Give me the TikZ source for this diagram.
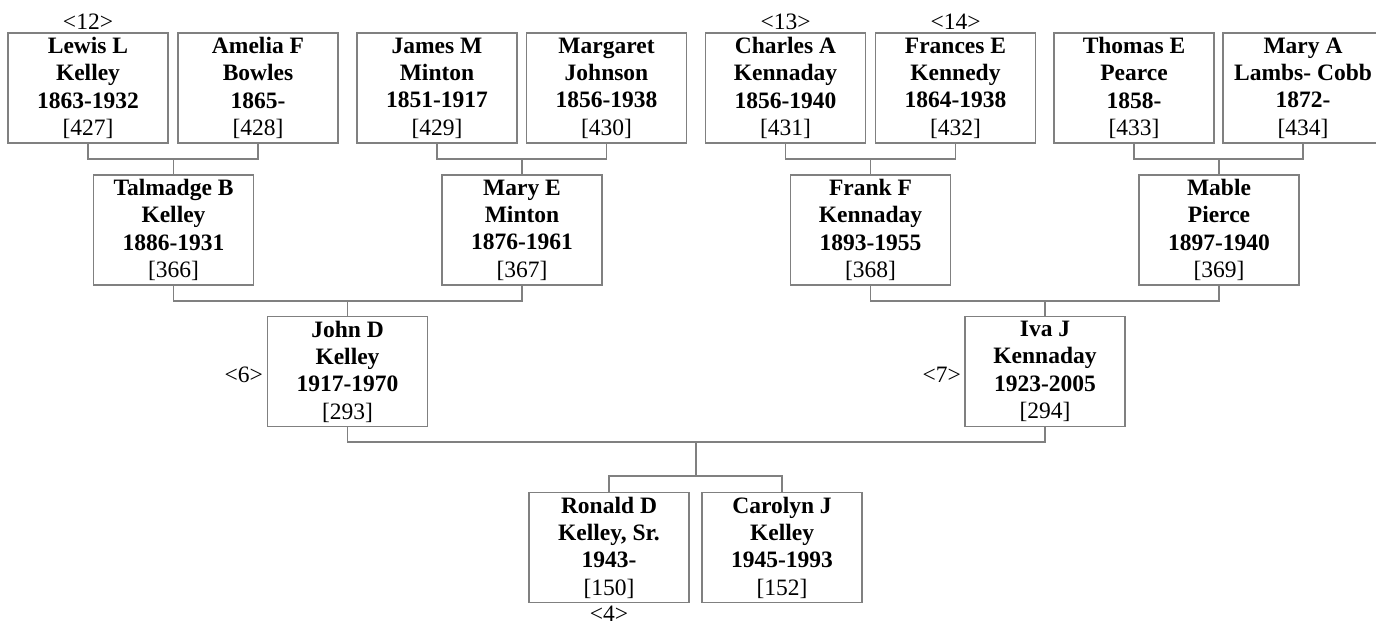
\documentclass[tikz,border=0pt]{standalone}
\usepackage{fontspec}
\setmainfont{Liberation Serif}
\begin{document}
\begin{tikzpicture}[x=1pt,y=1pt,
  person/.style={draw=black!50, line width=1.1pt, fill=white, minimum width=160pt, minimum height=110pt,
    inner sep=0pt, align=center, font=\fontsize{23.5}{27.3}\selectfont},
  link/.style={draw=black!50, line width=1.1pt},
  tag/.style={font=\fontsize{23.5}{27}\selectfont, inner sep=0pt}]
\useasboundingbox[fill=white] (0,0) rectangle (1376,625);
% generation 4
\node[person] (p427) at (88,537)     {\textbf{Lewis L}\\\textbf{Kelley}\\\textbf{1863-1932}\\{[427]}};
\node[person] (p428) at (258,537)    {\textbf{Amelia F}\\\textbf{Bowles}\\\textbf{1865-}\\{[428]}};
\node[person] (p429) at (437,537)    {\textbf{James M}\\\textbf{Minton}\\\textbf{1851-1917}\\{[429]}};
\node[person] (p430) at (606.5,537)  {\textbf{Margaret}\\\textbf{Johnson}\\\textbf{1856-1938}\\{[430]}};
\node[person] (p431) at (785.5,537)  {\textbf{Charles A}\\\textbf{Kennaday}\\\textbf{1856-1940}\\{[431]}};
\node[person] (p432) at (955.5,537)  {\textbf{Frances E}\\\textbf{Kennedy}\\\textbf{1864-1938}\\{[432]}};
\node[person] (p433) at (1134,537)   {\textbf{Thomas E}\\\textbf{Pearce}\\\textbf{1858-}\\{[433]}};
\node[person] (p434) at (1303,537)   {\textbf{Mary A}\\\textbf{Lambs- Cobb}\\\textbf{1872-}\\{[434]}};
% generation 3
\node[person] (p366) at (173.5,395) {\textbf{Talmadge B}\\\textbf{Kelley}\\\textbf{1886-1931}\\{[366]}};
\node[person] (p367) at (522,395)   {\textbf{Mary E}\\\textbf{Minton}\\\textbf{1876-1961}\\{[367]}};
\node[person] (p368) at (870.5,395) {\textbf{Frank F}\\\textbf{Kennaday}\\\textbf{1893-1955}\\{[368]}};
\node[person] (p369) at (1219,395)  {\textbf{Mable}\\\textbf{Pierce}\\\textbf{1897-1940}\\{[369]}};
% generation 2
\node[person] (p293) at (347.5,253.5) {\textbf{John D}\\\textbf{Kelley}\\\textbf{1917-1970}\\{[293]}};
\node[person] (p294) at (1045,253.5)  {\textbf{Iva J}\\\textbf{Kennaday}\\\textbf{1923-2005}\\{[294]}};
% generation 1
\node[person] (p150) at (609,77.5) {\textbf{Ronald D}\\\textbf{Kelley, Sr.}\\\textbf{1943-}\\{[150]}};
\node[person] (p152) at (782,77.5) {\textbf{Carolyn J}\\\textbf{Kelley}\\\textbf{1945-1993}\\{[152]}};
% labels
\node[tag] (l12) at (88,603) {\textless 12\textgreater};
\node[tag] (l13) at (785.5,603) {\textless 13\textgreater};
\node[tag] (l14) at (955.5,603) {\textless 14\textgreater};
\node[tag, anchor=east] (l6) at (263,250) {\textless 6\textgreater};
\node[tag, anchor=east] (l7) at (961,250) {\textless 7\textgreater};
\node[tag, anchor=base] (l4) at (609,4) {\textless 4\textgreater};
% connectors
\coordinate (j1) at (173.5,466);
\coordinate (j2) at (522,466);
\coordinate (j3) at (870.5,466);
\coordinate (j4) at (1219,466);
\coordinate (j5) at (347.5,324);
\coordinate (j6) at (1045,324);
\coordinate (j7) at (696,183);
\coordinate (j8) at (696,149);
\draw[link] (p427.south) |- (j1) -| (p428.south); \draw[link] (j1) -- (p366.north);
\draw[link] (p429.south) |- (j2) -| (p430.south); \draw[link] (j2) -- (p367.north);
\draw[link] (p431.south) |- (j3) -| (p432.south); \draw[link] (j3) -- (p368.north);
\draw[link] (p433.south) |- (j4) -| (p434.south); \draw[link] (j4) -- (p369.north);
\draw[link] (p366.south) |- (j5) -| (p367.south); \draw[link] (j5) -- (p293.north);
\draw[link] (p368.south) |- (j6) -| (p369.south); \draw[link] (j6) -- (p294.north);
\draw[link] (p293.south) |- (j7) -| (p294.south); \draw[link] (j7) -- (j8);
\draw[link] (p150.north) |- (j8) -| (p152.north);
\end{tikzpicture}
\end{document}
